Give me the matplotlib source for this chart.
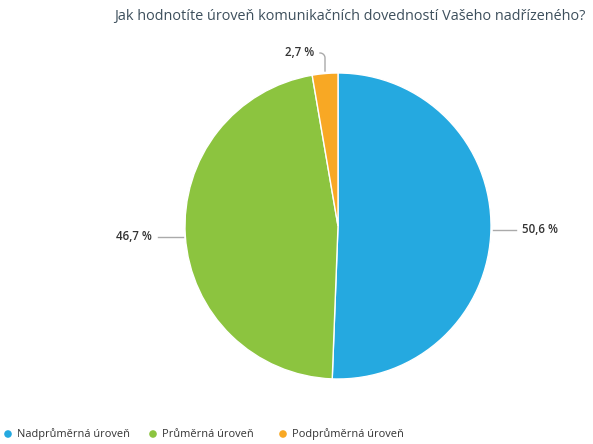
import numpy as np
import matplotlib
matplotlib.use("Agg")
import matplotlib.pyplot as plt

# survey answers
categories = ["Nadprůměrná úroveň", "Průměrná úroveň", "Podprůměrná úroveň"]
shares = [50.6, 46.7, 2.7]
labels = ["50,6 %", "46,7 %", "2,7 %"]
colors = ["#25a9e0", "#8cc43f", "#f8a824"]

title = "Jak hodnotíte úroveň komunikačních dovedností Vašeho nadřízeného?"

W, H = 593, 444
cx, cy, r = 338, 226, 153

plt.rcParams['font.family'] = ['Open Sans', 'DejaVu Sans']

fig = plt.figure(figsize=(W / 100, H / 100), dpi=100)
ax = fig.add_axes([0, 0, 1, 1])

# work in pixel coords with y measured from the top
def py(y):
    return H - y

wedges, _ = ax.pie(shares, colors=colors, startangle=90, counterclock=False,
                   center=(cx, py(cy)), radius=r, frame=True,
                   wedgeprops=dict(edgecolor="white", linewidth=1.0))
ax.set_xlim(0, W)
ax.set_ylim(0, H)
ax.axis("off")

lab_kw = dict(fontsize=8.3, color="#333333", va="center", fontweight="semibold")
line_kw = dict(color="#aaaaaa", linewidth=1.0)

# right label (blue)
ax.plot([cx + r + 2, cx + r + 25], [py(230), py(230)], **line_kw)
ax.text(cx + r + 31, py(230), labels[0], ha="left", **lab_kw)

# left label (green)
ax.plot([cx - r - 27, cx - r - 2], [py(237), py(237)], **line_kw)
ax.text(cx - r - 33, py(237), labels[1], ha="right", **lab_kw)

# top label (orange) with bent connector
t = np.linspace(0, np.pi / 2, 20)
bx = 320 + 5 * np.sin(t)
by = 53 + 5 * (1 - np.cos(t))
ax.plot(np.r_[bx, 325], py(np.r_[by, 71]), **line_kw)
ax.text(314, py(53), labels[2], ha="right", **lab_kw)

ax.text(114, py(17), title, fontsize=10.4, color="#3d4f5c", ha="left", va="center")

# legend row
leg_x = [8, 153, 283]
for x, c, name in zip(leg_x, colors, categories):
    ax.scatter([x], [py(434)], s=30, color=c, edgecolors="none")
    ax.text(x + 9, py(434), name, fontsize=7.9, color="#333333", ha="left", va="center")

fig.savefig("out.png", dpi=100, facecolor="white")
